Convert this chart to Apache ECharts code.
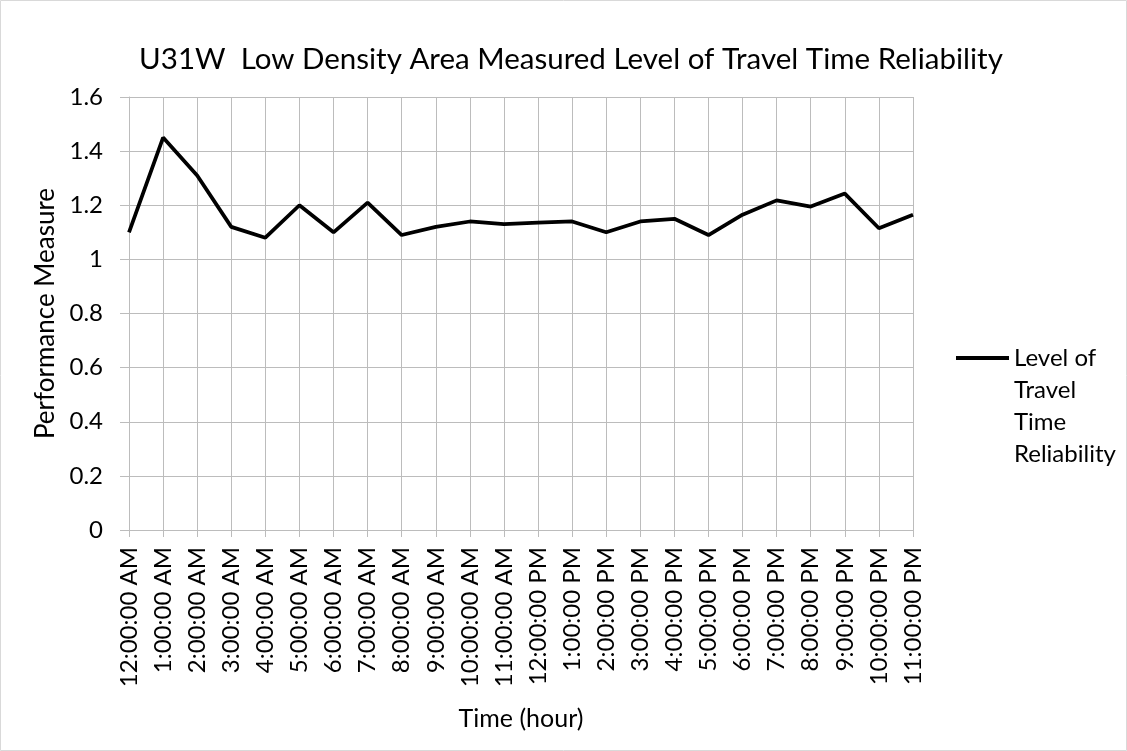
<!DOCTYPE html>
<html>
<head>
<meta charset="utf-8">
<script src="https://cdn.jsdelivr.net/npm/echarts@6/dist/echarts.min.js"></script>
<style>
html, body { margin: 0; padding: 0; background: #fff; }
#chart { width: 1127px; height: 751px; }
</style>
</head>
<body>
<div id="chart"></div>
<script>
// hours of the day, as printed on the axis
const hours = [
  '12:00:00 AM', '1:00:00 AM', '2:00:00 AM', '3:00:00 AM', '4:00:00 AM', '5:00:00 AM',
  '6:00:00 AM', '7:00:00 AM', '8:00:00 AM', '9:00:00 AM', '10:00:00 AM', '11:00:00 AM',
  '12:00:00 PM', '1:00:00 PM', '2:00:00 PM', '3:00:00 PM', '4:00:00 PM', '5:00:00 PM',
  '6:00:00 PM', '7:00:00 PM', '8:00:00 PM', '9:00:00 PM', '10:00:00 PM', '11:00:00 PM'
]
const reliability = [
  1.10, 1.45, 1.31, 1.12, 1.08, 1.20, 1.10, 1.21, 1.09, 1.12, 1.14, 1.13,
  1.136, 1.14, 1.10, 1.14, 1.15, 1.09, 1.165, 1.218, 1.195, 1.243, 1.115, 1.165
]
const yTicks = { min: 0, max: 1.6, step: 0.2 }

const FONT = 'Lato, "Open Sans", sans-serif'
const GRID_COLOR = '#bcbcbc'

let chart = echarts.init(document.getElementById('chart'))
chart.setOption({
  animation: false,
  textStyle: { fontFamily: FONT, color: '#000' },
  title: {
    text: 'U31W  Low Density Area Measured Level of Travel Time Reliability',
    left: 566,
    textAlign: 'center',
    top: 39,
    textStyle: { fontFamily: FONT, fontSize: 29.5, fontWeight: 'normal', color: '#000' }
  },
  graphic: [{
    type: 'rect',
    shape: { x: 0.5, y: 0.5, width: 1126, height: 750 },
    style: { fill: 'none', stroke: '#d9d9d9', lineWidth: 1 },
    silent: true
  }],
  legend: {
    left: 951,
    top: 241,
    orient: 'vertical',
    itemWidth: 53,
    itemHeight: 4,
    itemGap: 0,
    data: [{ name: 'Level of Travel Time Reliability', icon: 'rect' }],
    // blank lines above keep the line icon level with the first text line
    formatter: () => '\n\n\nLevel of\nTravel\nTime\nReliability',
    textStyle: {
      fontFamily: FONT,
      fontSize: 24,
      color: '#000',
      lineHeight: 32
    }
  },
  grid: {
    left: 129,
    right: 214,
    top: 97,
    bottom: 221,
    containLabel: false
  },
  xAxis: {
    type: 'category',
    data: hours,
    boundaryGap: false,
    name: 'Time (hour)',
    nameLocation: 'middle',
    nameGap: 176,
    nameTextStyle: { fontFamily: FONT, fontSize: 25, color: '#000' },
    axisLine: { lineStyle: { color: GRID_COLOR, width: 1 } },
    axisTick: { show: true, length: 7, interval: 0, lineStyle: { color: GRID_COLOR } },
    axisLabel: {
      rotate: 90,
      interval: 0,
      margin: 17,
      fontFamily: FONT,
      fontSize: 24,
      color: '#000'
    },
    splitLine: { show: true, interval: 0, lineStyle: { color: GRID_COLOR, width: 1 } }
  },
  yAxis: {
    type: 'value',
    min: yTicks.min,
    max: yTicks.max,
    interval: yTicks.step,
    name: 'Performance Measure',
    nameLocation: 'middle',
    nameGap: 66,
    nameTextStyle: { fontFamily: FONT, fontSize: 26, color: '#000' },
    axisLine: { show: true, lineStyle: { color: GRID_COLOR, width: 1 } },
    axisTick: { show: true, length: 9, lineStyle: { color: GRID_COLOR } },
    axisLabel: {
      margin: 26,
      fontFamily: FONT,
      fontSize: 24,
      color: '#000',
      formatter: v => String(Math.round(v * 10) / 10)
    },
    splitLine: { show: true, lineStyle: { color: GRID_COLOR, width: 1 } }
  },
  series: [{
    name: 'Level of Travel Time Reliability',
    type: 'line',
    data: reliability,
    symbol: 'none',
    lineStyle: { color: '#000', width: 3.75 },
    itemStyle: { color: '#000' }
  }]
})
</script>
</body>
</html>
